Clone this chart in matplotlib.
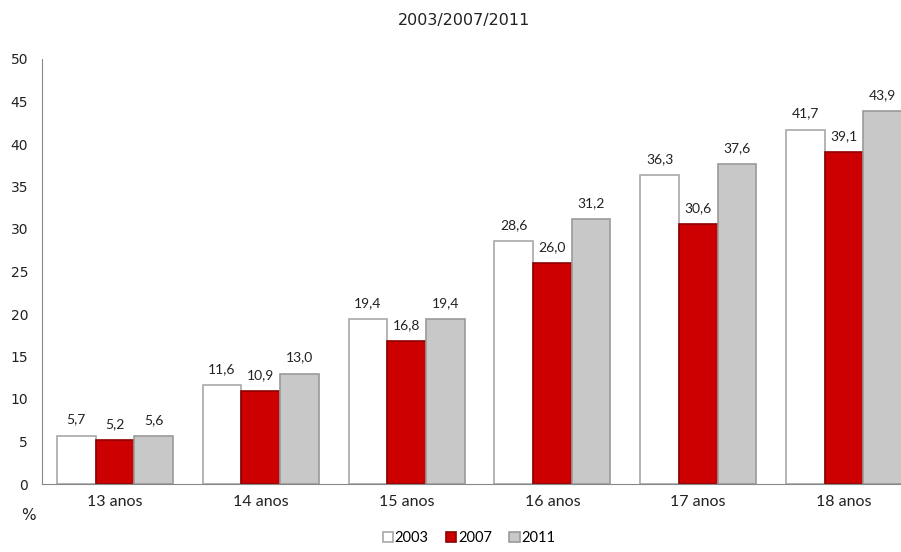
import matplotlib
matplotlib.use("Agg")
import matplotlib.pyplot as plt
import numpy as np

categories = ["13 anos", "14 anos", "15 anos", "16 anos", "17 anos", "18 anos"]
series_names = ["2003", "2007", "2011"]
v2003 = [5.7, 11.6, 19.4, 28.6, 36.3, 41.7]
v2007 = [5.2, 10.9, 16.8, 26.0, 30.6, 39.1]
v2011 = [5.6, 13.0, 19.4, 31.2, 37.6, 43.9]
yticks = [0, 5, 10, 15, 20, 25, 30, 35, 40, 45, 50]

W, H = 901, 552
fig = plt.figure(figsize=(W/100, H/100), dpi=100)
ax = fig.add_axes([42/W, (H-484)/H, (917-42)/W, (484-59)/H])

faces = ["#FFFFFF", "#CC0000", "#C8C8C8"]
edges = ["#A8A8A8", "#8E0000", "#9A9A9A"]
data = [v2003, v2007, v2011]
x = np.arange(len(categories))
bw = 0.265
offs = [-bw, 0, bw]
for i, vals in enumerate(data):
    ax.bar(x + offs[i], vals, width=bw, color=faces[i], edgecolor=edges[i],
           linewidth=1.2, label=series_names[i], zorder=2)
    for xi, v in zip(x + offs[i], vals):
        ax.annotate(f"{v:.1f}".replace(".", ","), (xi, v), xytext=(0, 11.5),
                    textcoords="offset points", ha="center", va="center",
                    fontsize=10, family="Lato", color="#222222", zorder=3)

ax.set_xlim(-0.5, len(categories) - 0.5)
ax.set_ylim(0, 50)
ax.set_yticks(yticks)
ax.set_yticklabels([str(t) for t in yticks], fontsize=10, family="DejaVu Sans")
ax.set_xticks(x)
ax.set_xticklabels(categories, fontsize=11.5, family="Lato")
ax.tick_params(axis="both", length=0, pad=8, colors="#222222")
ax.tick_params(axis="y", pad=10)
for s in ["top", "right"]:
    ax.spines[s].set_visible(False)
ax.spines["left"].set_color("#888888")
ax.spines["bottom"].set_color("#888888")

fig.text(464/W, 1 - 20/H, "2003/2007/2011", ha="center", va="center", fontsize=11.5,
         family="DejaVu Sans", color="#222222")
fig.text(28/W, 1 - 516/H, "%", ha="center", va="center", fontsize=11, family="DejaVu Sans",
         color="#222222")

leg = fig.legend(loc="center", bbox_to_anchor=(469/W, 1 - 538/H), ncol=3, frameon=False,
                 handlelength=0.7, handleheight=0.7, handletextpad=0.1,
                 columnspacing=1.2, prop={"family": "Lato", "size": 10.5})
fig.savefig("out.png", dpi=100)
